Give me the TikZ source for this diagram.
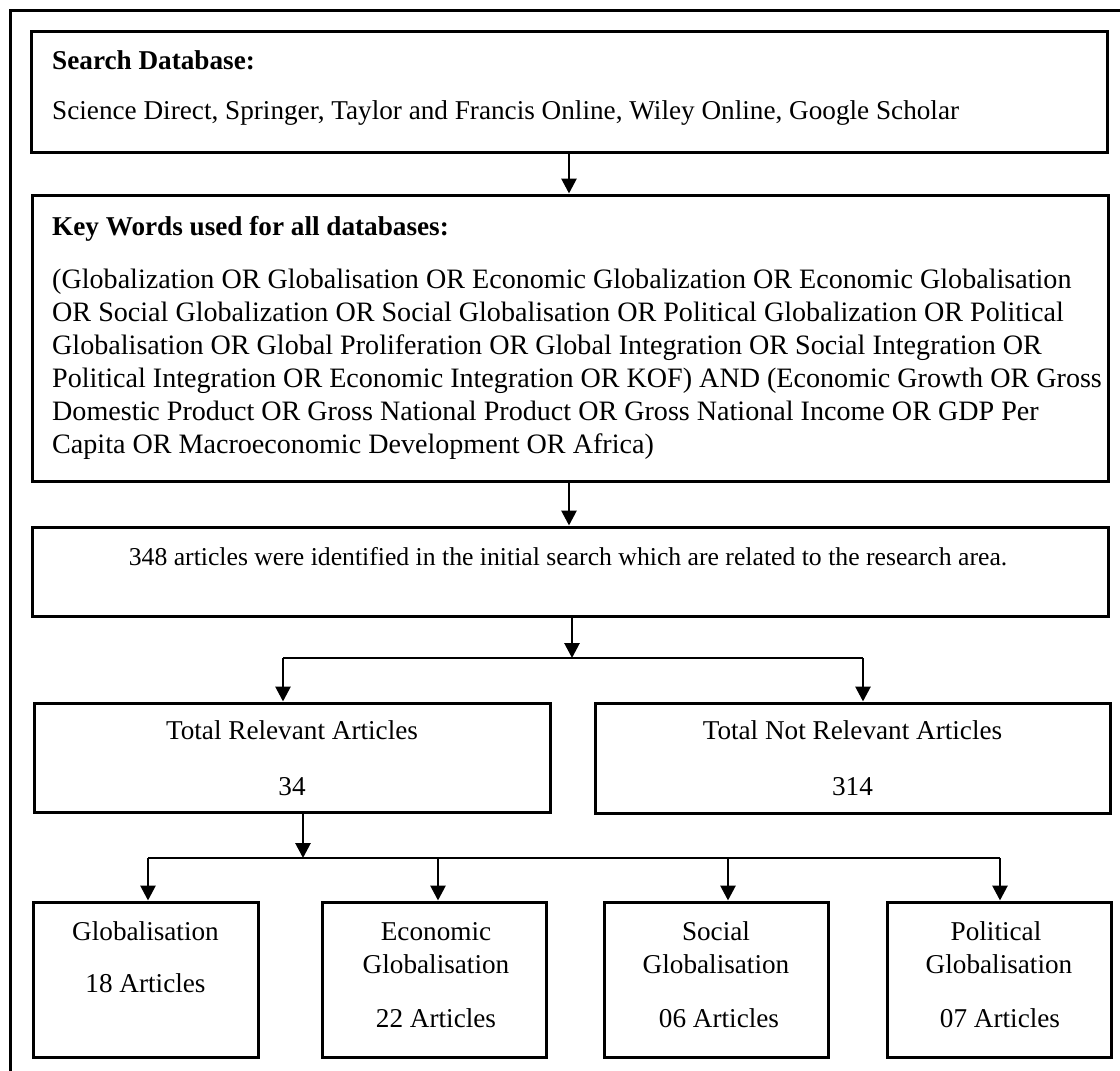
\documentclass[tikz,border=0pt]{standalone}
\usepackage{fontspec}
\setmainfont{Liberation Serif}
\usetikzlibrary{arrows.meta}
\begin{document}
\begin{tikzpicture}[x=1pt,y=-1pt,
  box/.style={draw,line width=3pt,inner sep=0pt},
  lab/.style={inner sep=0pt,font=\fontsize{27.2}{33}\selectfont},
  par/.style={inner sep=0pt,font=\fontsize{28.1}{33}\selectfont},
  arr/.style={line width=2.8pt,-{Triangle[length=15pt,width=15pt]}},
  ln/.style={line width=2.8pt}]
\useasboundingbox (0,0) rectangle (1120,1071);
% outer frame (clipped at right and bottom)
\draw[line width=3pt] (10,1075) -- (10,10) -- (1125,10);
% boxes
\node[box,minimum width=1076pt,minimum height=121pt] (b1) at (569,91.5) {};
\node[box,minimum width=1076pt,minimum height=286pt] (b2) at (570,338) {};
\node[box,minimum width=1076pt,minimum height=89pt] (b3) at (570,571.5) {};
\node[box,minimum width=516pt,minimum height=109pt] (rel) at (292,757.5) {};
\node[box,minimum width=515pt,minimum height=110pt] (nrel) at (852.5,758) {};
\node[box,minimum width=225pt,minimum height=155pt] (g1) at (145.5,979.5) {};
\node[box,minimum width=224pt,minimum height=155pt] (g2) at (434,979.5) {};
\node[box,minimum width=224pt,minimum height=155pt] (g3) at (716,979.5) {};
\node[box,minimum width=224pt,minimum height=155pt] (g4) at (999,979.5) {};
% texts box 1
\node[lab,anchor=base west,font=\fontsize{27.2}{33}\selectfont\bfseries] (t1a) at (52,69) {Search Database:};
\node[lab,anchor=base west] (t1b) at (52,119) {Science Direct, Springer, Taylor and Francis Online, Wiley Online, Google Scholar};
% texts box 2
\node[lab,anchor=base west,font=\fontsize{27.2}{33}\selectfont\bfseries] (t2a) at (52,235) {Key Words used for all databases:};
\node[par,anchor=base west] (k1) at (52,288) {(Globalization OR Globalisation OR Economic Globalization OR Economic Globalisation};
\node[par,anchor=base west] (k2) at (52,321) {OR Social Globalization OR Social Globalisation OR Political Globalization OR Political};
\node[par,anchor=base west] (k3) at (52,354) {Globalisation OR Global Proliferation OR Global Integration OR Social Integration OR};
\node[par,anchor=base west] (k4) at (52,387) {Political Integration OR Economic Integration OR KOF) AND (Economic Growth OR Gross};
\node[par,anchor=base west] (k5) at (52,420) {Domestic Product OR Gross National Product OR Gross National Income OR GDP Per};
\node[par,anchor=base west] (k6) at (52,453) {Capita OR Macroeconomic Development OR Africa)};
% box 3
\node[inner sep=0pt,font=\fontsize{25.7}{33}\selectfont,anchor=base] (t3) at (568,565) {348 articles were identified in the initial search which are related to the research area.};
% relevant / not relevant
\node[lab,anchor=base] (r1) at (292,739) {Total Relevant Articles};
\node[lab,anchor=base] (r2) at (292,795) {34};
\node[lab,anchor=base] (n1) at (852.5,739) {Total Not Relevant Articles};
\node[lab,anchor=base] (n2) at (852.5,795) {314};
% bottom boxes
\node[lab,anchor=base] (g1a) at (145.5,940) {Globalisation};
\node[lab,anchor=base] (g1b) at (145.5,992) {18 Articles};
\node[lab,anchor=base] (g2a) at (436,940) {Economic};
\node[lab,anchor=base] (g2b) at (436,973) {Globalisation};
\node[lab,anchor=base] (g2c) at (436,1027) {22 Articles};
\node[lab,anchor=base] (g3a) at (716,940) {Social};
\node[lab,anchor=base] (g3b) at (716,973) {Globalisation};
\node[lab,anchor=base] (g3c) at (719,1027) {06 Articles};
\node[lab,anchor=base] (g4a) at (996,940) {Political};
\node[lab,anchor=base] (g4b) at (999,973) {Globalisation};
\node[lab,anchor=base] (g4c) at (1000,1027) {07 Articles};
% connectors
\coordinate (c1) at (569,0);
\draw[arr] (c1 |- b1.south) -- (c1 |- b2.north);
\draw[arr] (c1 |- b2.south) -- (c1 |- b3.north);
\coordinate (j) at (572,658);
\coordinate (jl) at (283,658);
\coordinate (jr) at (863,658);
\draw[ln] (jl) -- (jr);
\draw[arr] (j |- b3.south) -- (j);
\draw[arr] (jl) -- (jl |- rel.north);
\draw[arr] (jr) -- (jr |- nrel.north);
\coordinate (k) at (303,858);
\coordinate (d1) at (148,858);
\coordinate (d2) at (438,858);
\coordinate (d3) at (728,858);
\coordinate (d4) at (1000,858);
\draw[ln] (d1) -- (d4);
\draw[arr] (k |- rel.south) -- (k);
\draw[arr] (d1) -- (d1 |- g1.north);
\draw[arr] (d2) -- (d2 |- g2.north);
\draw[arr] (d3) -- (d3 |- g3.north);
\draw[arr] (d4) -- (d4 |- g4.north);
\end{tikzpicture}
\end{document}
